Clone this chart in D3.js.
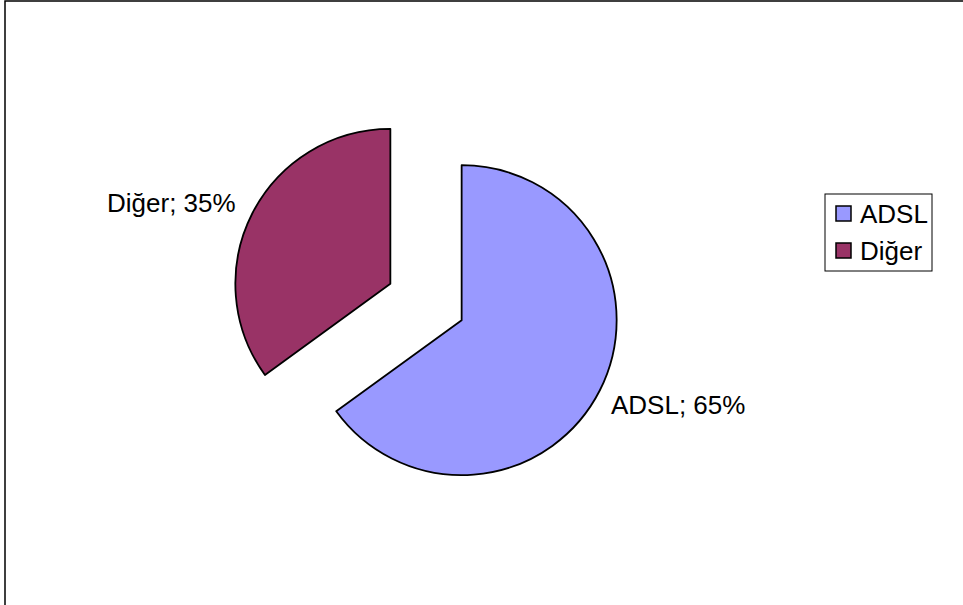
<!DOCTYPE html>
<html>
<head>
<meta charset="utf-8">
<script src="https://cdn.jsdelivr.net/npm/d3@7"></script>
<style>
  body { margin: 0; background: #fff; }
  text { font-family: "Liberation Sans", Arial, sans-serif; }
</style>
</head>
<body>
<div class="chart"></div>
<script>
var svgWidth = 963;
var svgHeight = 605;

// data
var categories = ["ADSL", "Diğer"];
var values = [65, 35];
var colors = ["#9999FF", "#993366"];

var radius = 155;
var baseCenter = [426, 302];
var explode = 40;

var svg = d3.select(".chart")
  .append("svg")
  .attr("width", svgWidth)
  .attr("height", svgHeight);

// chart border (only top and left visible)
svg.append("rect")
  .attr("x", 5)
  .attr("y", 1)
  .attr("width", 1000)
  .attr("height", 700)
  .attr("fill", "none")
  .attr("stroke", "#000")
  .attr("stroke-width", 1.5);

var pie = d3.pie().sort(null).value(d => d);
var arcs = pie(values);

var arc = d3.arc().innerRadius(0).outerRadius(radius);

var slices = svg.selectAll("g.slice")
  .data(arcs)
  .enter()
  .append("g")
  .attr("class", "slice")
  .attr("transform", function(d) {
    var mid = (d.startAngle + d.endAngle) / 2;
    var dx = explode * Math.sin(mid);
    var dy = -explode * Math.cos(mid);
    return `translate(${baseCenter[0] + dx}, ${baseCenter[1] + dy})`;
  });

slices.append("path")
  .attr("d", arc)
  .attr("fill", (d, i) => colors[i])
  .attr("stroke", "#000")
  .attr("stroke-width", 1.8)
  .attr("stroke-linejoin", "round");

// data labels
var labelPos = [[611, 414], [107, 212]];
svg.selectAll("text.label")
  .data(arcs)
  .enter()
  .append("text")
  .attr("class", "label")
  .attr("x", (d, i) => labelPos[i][0])
  .attr("y", (d, i) => labelPos[i][1])
  .attr("font-size", "26px")
  .attr("fill", "#000")
  .text((d, i) => `${categories[i]}; ${values[i]}%`);

// legend
var legend = svg.append("g").attr("transform", "translate(825, 194)");
legend.append("rect")
  .attr("width", 107)
  .attr("height", 77)
  .attr("fill", "#fff")
  .attr("stroke", "#000")
  .attr("stroke-width", 1);

var items = legend.selectAll("g.item")
  .data(categories)
  .enter()
  .append("g")
  .attr("class", "item")
  .attr("transform", (d, i) => `translate(11, ${12 + i * 37})`);

items.append("rect")
  .attr("width", 15)
  .attr("height", 15)
  .attr("fill", (d, i) => colors[i])
  .attr("stroke", "#000")
  .attr("stroke-width", 1.5);

items.append("text")
  .attr("x", 24)
  .attr("y", 17)
  .attr("font-size", "26px")
  .text(d => d);
</script>
</body>
</html>
